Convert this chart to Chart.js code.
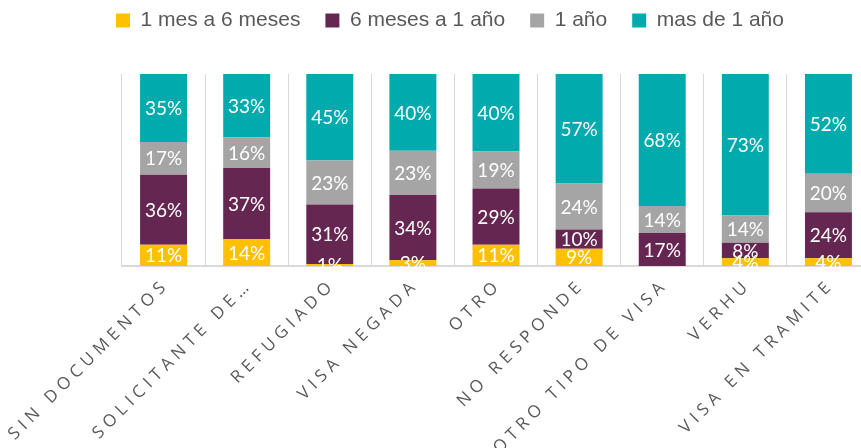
<!DOCTYPE html>
<html lang="es">
<head>
<meta charset="utf-8">
<title>Tiempo por estatus migratorio</title>
<script src="https://cdn.jsdelivr.net/npm/chart.js@4.4.1/dist/chart.umd.min.js"></script>
<style>
  html, body { margin: 0; padding: 0; background: #fff; overflow: hidden; }
  #marco { width: 861px; height: 448px; overflow: hidden; }
</style>
</head>
<body>
<div id="marco"><canvas id="grafico" width="872" height="448"></canvas></div>
<script>
// categorias del eje x
const etiquetas = ['SIN DOCUMENTOS', 'SOLICITANTE DE…', 'REFUGIADO', 'VISA NEGADA', 'OTRO',
  'NO RESPONDE', 'OTRO TIPO DE VISA', 'VERHU', 'VISA EN TRAMITE'];

// porcentajes por serie (de abajo hacia arriba)
const unMesASeis = [11, 14, 1, 3, 11, 9, 0, 4, 4];
const seisMesesAUnAnio = [36, 37, 31, 34, 29, 10, 17, 8, 24];
const unAnio = [17, 16, 23, 23, 19, 24, 14, 14, 20];
const masDeUnAnio = [35, 33, 45, 40, 40, 57, 68, 73, 52];

const series = [
  { nombre: '1 mes a 6 meses', valores: unMesASeis, color: '#FFC000' },
  { nombre: '6 meses a 1 año', valores: seisMesesAUnAnio, color: '#652751' },
  { nombre: '1 año', valores: unAnio, color: '#A5A5A5' },
  { nombre: 'mas de 1 año', valores: masDeUnAnio, color: '#00AAAD' }
];

// 100% apilado: cada barra se lleva a su total
const totales = etiquetas.map((_, i) => series.reduce((s, serie) => s + serie.valores[i], 0));

const datasets = series.map(serie => ({
  label: serie.nombre,
  data: serie.valores.map((v, i) => v / totales[i] * 100),
  crudos: serie.valores,
  backgroundColor: serie.color,
  borderWidth: 0,
  barPercentage: 0.565,
  categoryPercentage: 1
}));

// ajusta la posicion de la leyenda como en la imagen original
const posLeyenda = {
  id: 'posLeyenda',
  beforeLayout(chart) {
    const lg = chart.legend;
    if (lg && !lg._parchado) {
      const fitOriginal = lg.fit;
      lg.fit = function () {
        fitOriginal.call(this);
        this.height = 74;
      };
      lg._parchado = true;
    }
  },
  afterLayout(chart) {
    const lg = chart.legend;
    lg.left = 91;
    lg.top = -15;
  }
};

// etiquetas de porcentaje dentro de cada segmento
const etiquetasValor = {
  id: 'etiquetasValor',
  afterDatasetsDraw(chart) {
    const ctx = chart.ctx;
    ctx.save();
    ctx.font = '19px Lato';
    ctx.fillStyle = '#ffffff';
    ctx.textAlign = 'center';
    ctx.textBaseline = 'middle';
    chart.data.datasets.forEach((ds, d) => {
      chart.getDatasetMeta(d).data.forEach((barra, i) => {
        const v = ds.crudos[i];
        if (!v) return;
        ctx.fillText(v + '%', barra.x, (barra.y + barra.base) / 2 + 1);
      });
    });
    ctx.restore();
  }
};

// etiquetas del eje x giradas y espaciadas
const ejeX = {
  id: 'ejeX',
  afterDraw(chart) {
    const ctx = chart.ctx;
    const xs = chart.scales.x;
    ctx.save();
    ctx.font = '17px "Open Sans"';
    ctx.fillStyle = '#595959';
    ctx.letterSpacing = '5px';
    ctx.textAlign = 'right';
    ctx.textBaseline = 'middle';
    etiquetas.forEach((txt, i) => {
      const x = xs.getPixelForTick(i);
      ctx.save();
      ctx.translate(x + 3, xs.top + 16);
      ctx.rotate(-Math.PI / 4);
      ctx.fillText(txt, 0, 0);
      ctx.restore();
    });
    ctx.restore();
  }
};

new Chart(document.getElementById('grafico'), {
  type: 'bar',
  data: { labels: etiquetas, datasets: datasets },
  plugins: [posLeyenda, etiquetasValor, ejeX],
  options: {
    responsive: false,
    animation: false,
    layout: { padding: { left: 122, right: 2, top: 0, bottom: 0 } },
    plugins: {
      legend: {
        position: 'top',
        align: 'start',
        labels: {
          boxWidth: 14,
          boxHeight: 14,
          padding: 25,
          color: '#595959',
          font: { family: '"Liberation Sans", Arial', size: 21 }
        }
      },
      tooltip: { enabled: false }
    },
    scales: {
      x: {
        stacked: true,
        grid: { color: '#D9D9D9', lineWidth: 1, offset: true, drawTicks: false },
        border: { color: '#D9D9D9', width: 2 },
        ticks: { display: false },
        afterFit(scale) { scale.height = 182; }
      },
      y: {
        stacked: true,
        display: false,
        min: 0,
        max: 100
      }
    }
  }
});
</script>
</body>
</html>
